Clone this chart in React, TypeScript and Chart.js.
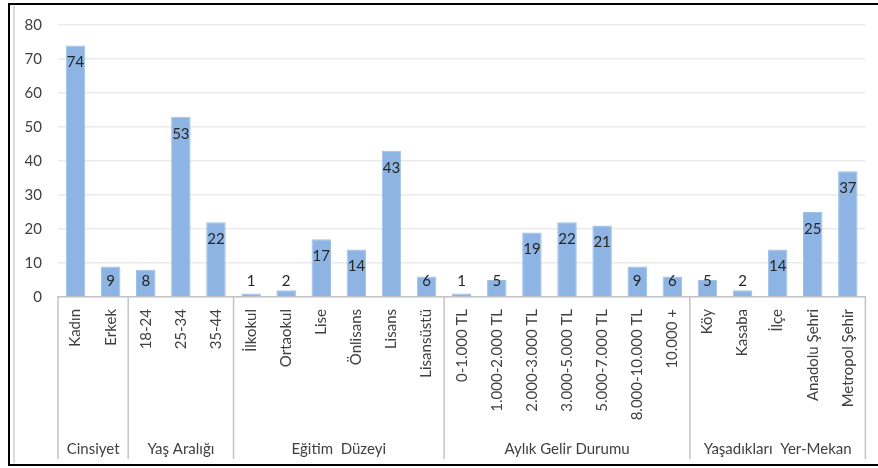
import React, { useEffect, useRef } from "react";
import { Chart, registerables } from "chart.js";

Chart.register(...registerables);

// Category labels, in axis order
const categories = [
  "Kadın", "Erkek",
  "18-24", "25-34", "35-44",
  "İlkokul", "Ortaokul", "Lise", "Önlisans", "Lisans", "Lisansüstü",
  "0-1.000 TL", "1.000-2.000 TL", "2.000-3.000 TL", "3.000-5.000 TL", "5.000-7.000 TL", "8.000-10.000 TL", "10.000 +",
  "Köy", "Kasaba", "İlçe", "Anadolu Şehri", "Metropol Şehir",
];

// Counts per category
const values = [74, 9, 8, 53, 22, 1, 2, 17, 14, 43, 6, 1, 5, 19, 22, 21, 9, 6, 5, 2, 14, 25, 37];

// Second-level axis groups
const groupNames = ["Cinsiyet", "Yaş Aralığı", "Eğitim  Düzeyi", "Aylık Gelir Durumu", "Yaşadıkları  Yer-Mekan"];
const groupSizes = [2, 3, 6, 7, 5];

// Value axis ticks
const yMin = 0;
const yMax = 80;
const yStep = 10;

const FONT = "Lato, 'Open Sans', sans-serif";
const W = 878;
const H = 468;

const valueLabels = {
  id: "valueLabels",
  afterDatasetsDraw(chart: any) {
    const ctx = chart.ctx;
    const meta = chart.getDatasetMeta(0);
    ctx.save();
    ctx.font = `15px ${FONT}`;
    ctx.fillStyle = "#262626";
    ctx.textAlign = "center";
    ctx.textBaseline = "middle";
    meta.data.forEach((bar: any, i: number) => {
      const y = Math.min(bar.y + 17, bar.base - 15);
      ctx.fillText(String(values[i]), bar.x, y);
    });
    ctx.restore();
  },
};

const groupAxis = {
  id: "groupAxis",
  afterDraw(chart: any) {
    const ctx = chart.ctx;
    const xs = chart.scales.x;
    const area = chart.chartArea;
    const lineBottom = 459;
    ctx.save();
    // group separators
    ctx.strokeStyle = "#c4c4c4";
    ctx.lineWidth = 1.5;
    const edges: number[] = [area.left];
    let idx = 0;
    groupSizes.forEach((n, g) => {
      idx += n;
      if (g < groupSizes.length - 1) {
        edges.push((xs.getPixelForValue(idx - 1) + xs.getPixelForValue(idx)) / 2);
      }
    });
    edges.push(area.right);
    edges.forEach((x) => {
      ctx.beginPath();
      ctx.moveTo(x, area.bottom);
      ctx.lineTo(x, lineBottom);
      ctx.stroke();
    });
    // group names
    ctx.font = `15px ${FONT}`;
    ctx.fillStyle = "#404040";
    ctx.textAlign = "center";
    ctx.textBaseline = "middle";
    groupNames.forEach((name, g) => {
      ctx.fillText(name, (edges[g] + edges[g + 1]) / 2, 449);
    });
    // outer frame
    ctx.strokeStyle = "#d0d0d0";
    ctx.lineWidth = 1.5;
    ctx.beginPath();
    ctx.moveTo(14, 6);
    ctx.lineTo(14, 463);
    ctx.stroke();
    ctx.strokeStyle = "#000000";
    ctx.lineWidth = 2;
    ctx.beginPath();
    ctx.moveTo(W, 4);
    ctx.lineTo(9, 4);
    ctx.lineTo(9, 465);
    ctx.lineTo(W, 465);
    ctx.stroke();
    ctx.restore();
  },
};

export default function App() {
  const ref = useRef<HTMLCanvasElement>(null);

  useEffect(() => {
    if (!ref.current) return;
    const chart = new Chart(ref.current, {
      type: "bar",
      data: {
        labels: categories,
        datasets: [
          {
            data: values,
            backgroundColor: "#8db4e2",
            borderColor: "#9cc0e8",
            borderWidth: 1,
            categoryPercentage: 1,
            barPercentage: 0.555,
          },
        ],
      },
      options: {
        responsive: false,
        animation: false,
        devicePixelRatio: 1,
        layout: { padding: { top: 23, right: 7, left: 0, bottom: 0 } },
        plugins: {
          legend: { display: false },
          tooltip: { enabled: false },
        },
        scales: {
          x: {
            afterFit: (s: any) => {
              s.height = H - 297;
            },
            grid: { display: false, drawTicks: false },
            border: { display: true, color: "#c4c4c4", width: 1.5 },
            ticks: {
              autoSkip: false,
              minRotation: 90,
              maxRotation: 90,
              padding: 12,
              color: "#404040",
              font: { family: FONT, size: 15 },
            },
          },
          y: {
            min: yMin,
            max: yMax,
            afterFit: (s: any) => {
              s.width = 58;
            },
            border: { display: false },
            grid: {
              drawTicks: false,
              color: "#ebebeb",
              lineWidth: 1.5,
            },
            ticks: {
              stepSize: yStep,
              padding: 16,
              color: "#404040",
              font: { family: FONT, size: 15 },
            },
          },
        },
      },
      plugins: [valueLabels, groupAxis],
    });
    return () => chart.destroy();
  }, []);

  return (
    <div style={{ position: "absolute", left: 0, top: 0, width: W, height: H, background: "#fff" }}>
      <canvas ref={ref} width={W} height={H} style={{ display: "block" }} />
    </div>
  );
}
